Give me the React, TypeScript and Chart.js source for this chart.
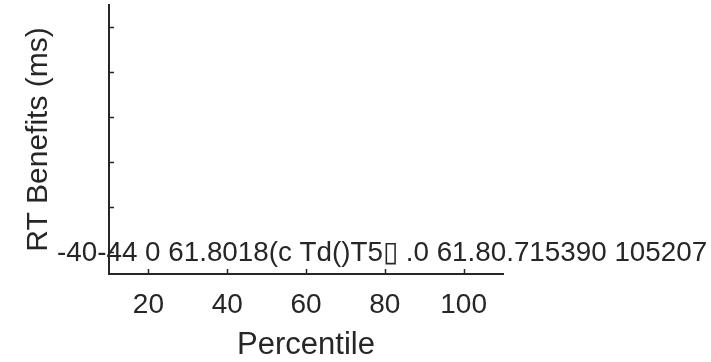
import React, { useEffect, useRef } from "react";
import { Chart, registerables } from "chart.js";

Chart.register(...registerables);

// Data (no marks are visible in the reference figure)
const seriesPoints: { x: number; y: number }[] = [];
const xTicks = [20, 40, 60, 80, 100];
const yTicks = [-40, -20, 0, 20, 40, 60];
// Only the -40 tick label is visible, merged with garbled text in the source
const yTickLabels: Record<number, string> = {
  [-40]: "-40-44 0 61.8018(c Td()T5\u25AF .0 61.80.715390 105207",
};
const xRange = [10, 110];
const yRange = [-50, 70];

const AXIS_COLOR = "#262626";
const FONT = "'Liberation Sans', Arial, Helvetica, sans-serif";

const innerTicks = {
  id: "innerTicks",
  afterDraw(chart: any) {
    const ctx = chart.ctx;
    const xs = chart.scales.x;
    const ys = chart.scales.y;
    const area = chart.chartArea;
    ctx.save();
    ctx.strokeStyle = AXIS_COLOR;
    ctx.lineWidth = 1.5;
    ctx.beginPath();
    xs.ticks.forEach((t: any) => {
      const px = Math.round(xs.getPixelForValue(t.value)) + 0.5;
      ctx.moveTo(px, area.bottom);
      ctx.lineTo(px, area.bottom - 5);
    });
    ys.ticks.forEach((t: any) => {
      const py = Math.round(ys.getPixelForValue(t.value)) + 0.5;
      ctx.moveTo(area.left, py);
      ctx.lineTo(area.left + 5, py);
    });
    ctx.stroke();
    ctx.restore();
  },
};

export default function App() {
  const ref = useRef<HTMLCanvasElement | null>(null);
  useEffect(() => {
    document.body.style.margin = "0";
    const canvas = ref.current;
    if (!canvas) return;
    const chart = new Chart(canvas, {
      type: "scatter",
      data: {
        datasets: [
          {
            data: seriesPoints,
            borderColor: AXIS_COLOR,
            backgroundColor: AXIS_COLOR,
          },
        ],
      },
      options: {
        animation: false,
        responsive: false,
        devicePixelRatio: 1,
        layout: { padding: { top: 5, right: 208, left: 0, bottom: 0 } },
        plugins: {
          legend: { display: false },
          tooltip: { enabled: false },
        },
        scales: {
          x: {
            type: "linear",
            min: xRange[0],
            max: xRange[1],
            afterBuildTicks: (s: any) => {
              s.ticks = xTicks.map((v) => ({ value: v }));
            },
            afterFit: (s: any) => {
              s.height = 88;
            },
            grid: { display: false, drawTicks: false },
            border: { display: true, color: AXIS_COLOR, width: 2 },
            ticks: {
              color: AXIS_COLOR,
              font: { family: FONT, size: 28 },
              padding: 14,
              maxRotation: 0,
              autoSkip: false,
              callback: (v: any) => String(v),
            },
            title: {
              display: true,
              text: "Percentile",
              color: AXIS_COLOR,
              font: { family: FONT, size: 31 },
              padding: { top: 0, bottom: -2 },
            },
          },
          y: {
            type: "linear",
            min: yRange[0],
            max: yRange[1],
            afterBuildTicks: (s: any) => {
              s.ticks = yTicks.map((v) => ({ value: v }));
            },
            afterFit: (s: any) => {
              s.width = 109;
            },
            grid: { display: false, drawTicks: false },
            border: { display: true, color: AXIS_COLOR, width: 2 },
            ticks: {
              color: AXIS_COLOR,
              font: { family: FONT, size: 27.8 },
              mirror: true,
              padding: -52,
              labelOffset: 1.5,
              autoSkip: false,
              callback: (v: any) => yTickLabels[v as number] ?? "",
            },
            title: {
              display: true,
              text: "RT Benefits (ms)",
              color: AXIS_COLOR,
              font: { family: FONT, size: 30 },
              padding: { top: 21, bottom: 0 },
            },
          },
        },
      },
      plugins: [innerTicks],
    });
    return () => chart.destroy();
  }, []);
  return (
    <div style={{ width: 711, height: 362, background: "#fff" }}>
      <canvas ref={ref} width={711} height={362} style={{ display: "block" }} />
    </div>
  );
}
